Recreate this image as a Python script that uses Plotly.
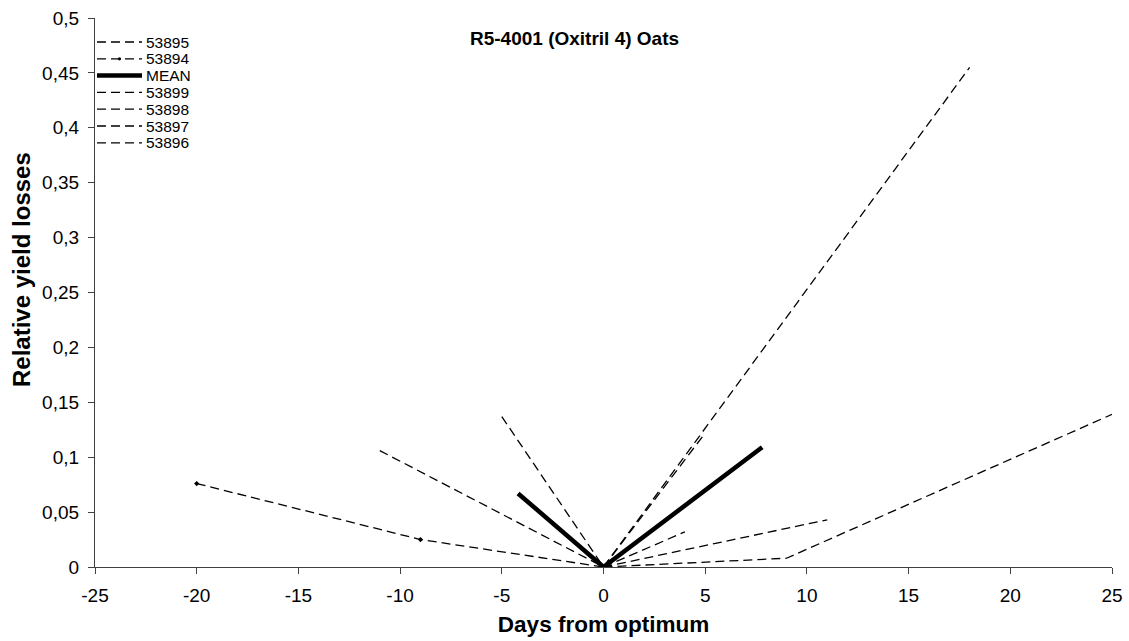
import plotly.graph_objects as go

# Days from optimum (x) and relative yield losses (y) per trial
names = ["53895", "53894", "MEAN", "53899", "53898", "53897", "53896"]

x_53895 = [-11, 0, 11]
y_53895 = [0.106, 0.0, 0.043]

x_53894 = [-20, -9, 0]
y_53894 = [0.076, 0.025, 0.0]

x_mean = [-4.2, 0, 7.8]
y_mean = [0.067, 0.0, 0.109]

x_53899 = [-5, 0, 5]
y_53899 = [0.137, 0.0, 0.122]

x_53898 = [0, 18]
y_53898 = [0.0, 0.455]

x_53897 = [0, 4]
y_53897 = [0.0, 0.032]

x_53896 = [0, 9, 25]
y_53896 = [0.0, 0.008, 0.139]

x_ticks = [-25, -20, -15, -10, -5, 0, 5, 10, 15, 20, 25]
x_tick_text = ["-25", "-20", "-15", "-10", "-5", "0", "5", "10", "15", "20", "25"]
y_ticks = [0, 0.05, 0.1, 0.15, 0.2, 0.25, 0.3, 0.35, 0.4, 0.45, 0.5]
y_tick_text = ["0", "0,05", "0,1", "0,15", "0,2", "0,25", "0,3", "0,35", "0,4", "0,45", "0,5"]

series = [
    (x_53895, y_53895),
    (x_53894, y_53894),
    (x_mean, y_mean),
    (x_53899, y_53899),
    (x_53898, y_53898),
    (x_53897, y_53897),
    (x_53896, y_53896),
]

DASH = "9px,5px"
FONT = "Liberation Sans, Arial, sans-serif"
W, H = 1129, 641
ML, MR, MT, MB = 95, 17, 18, 74
PW, PH = W - ML - MR, H - MT - MB


def px_to_paper_x(px):
    return (px - ML) / PW


def px_to_paper_y(py):
    return (H - MB - py) / PH


def style(name):
    if name == "MEAN":
        return dict(color="black", width=4.5, dash="solid")
    return dict(color="black", width=1.3, dash=DASH)


fig = go.Figure()
for name, (xs, ys) in zip(names, series):
    if name == "53894":
        fig.add_trace(go.Scatter(x=xs, y=ys, name=name, mode="lines+markers",
                                 line=style(name), showlegend=False,
                                 marker=dict(symbol="diamond", size=4, color="black")))
    else:
        fig.add_trace(go.Scatter(x=xs, y=ys, name=name, mode="lines",
                                 line=style(name), showlegend=False))

# Compact key in the upper-left corner of the plotting area
key_top_px, key_step_px = 42, 16.8
line_x0_px, line_x1_px, text_x_px = 97, 142, 144
for i, name in enumerate(names):
    yp = px_to_paper_y(key_top_px + i * key_step_px)
    x0, x1 = px_to_paper_x(line_x0_px), px_to_paper_x(line_x1_px)
    st = style(name)
    fig.add_shape(type="line", xref="paper", yref="paper", x0=x0, x1=x1, y0=yp, y1=yp,
                  line=dict(color=st["color"], width=st["width"], dash=st["dash"]))
    if name == "53894":
        xm = (x0 + x1) / 2
        dx, dy = 1.6 / PW, 1.6 / PH
        fig.add_shape(type="circle", xref="paper", yref="paper",
                      x0=xm - dx, x1=xm + dx, y0=yp - dy, y1=yp + dy,
                      fillcolor="black", line=dict(width=0))
    fig.add_annotation(text=name, xref="paper", yref="paper",
                       x=px_to_paper_x(text_x_px), y=yp, xanchor="left", yanchor="middle",
                       showarrow=False, font=dict(family=FONT, size=15.5, color="black"))

fig.add_annotation(text="<b>R5-4001 (Oxitril 4) Oats</b>", xref="paper", yref="paper",
                   x=px_to_paper_x(574), y=px_to_paper_y(38), xanchor="center", yanchor="middle",
                   showarrow=False, font=dict(family=FONT, size=19, color="black"))

# Vertical axis title, placed a little above the plot's centre
fig.add_annotation(text="<b>Relative yield losses</b>", xref="paper", yref="paper",
                   x=px_to_paper_x(21), y=px_to_paper_y(270), xanchor="center", yanchor="middle",
                   textangle=-90, showarrow=False, font=dict(family=FONT, size=24, color="black"))

fig.update_layout(
    width=W, height=H,
    margin=dict(l=ML, r=MR, t=MT, b=MB, autoexpand=False),
    paper_bgcolor="white", plot_bgcolor="white",
    font=dict(family=FONT, size=19, color="black"),
    showlegend=False,
    xaxis=dict(range=[-25, 25], tickvals=x_ticks, ticktext=x_tick_text, ticks="outside",
               ticklen=6, showline=True, linecolor="#404040", linewidth=1.3, tickcolor="#404040",
               showgrid=False, zeroline=False, tickfont=dict(size=19), automargin=False,
               ticklabelstandoff=5,
               title=dict(text="<b>Days from optimum</b>", font=dict(size=22.5), standoff=11)),
    yaxis=dict(range=[0, 0.5], tickvals=y_ticks, ticktext=y_tick_text, ticks="outside",
               ticklen=6, showline=True, linecolor="#404040", linewidth=1.3, tickcolor="#404040",
               showgrid=False, zeroline=False, tickfont=dict(size=19), automargin=False,
               ticklabelstandoff=5),
)

fig.write_html("out.html")
